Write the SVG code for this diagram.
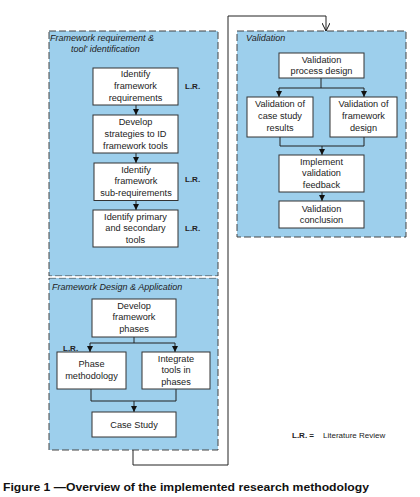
<svg xmlns="http://www.w3.org/2000/svg" width="420" height="497" viewBox="0 0 420 497">
<style>
.panel{fill:#9dcfec;stroke:#444;stroke-width:1;stroke-dasharray:7 3}
.box{fill:#fff;stroke:#333;stroke-width:1}
.t{font-family:"Liberation Sans",Arial,sans-serif;font-size:9.2px;fill:#222;text-anchor:middle}
.pt{font-family:"Liberation Sans",Arial,sans-serif;font-size:9px;font-style:italic;fill:#222}
.lr{font-family:"Liberation Sans",Arial,sans-serif;font-size:8px;font-weight:bold;fill:#222}
.c{fill:none;stroke:#222;stroke-width:1}
</style>
<defs>
<marker id="ah" viewBox="0 0 6 6" refX="6" refY="3" markerWidth="6" markerHeight="6" orient="auto" markerUnits="userSpaceOnUse">
<path d="M0,0 L6,3 L0,6 z" fill="#111"/>
</marker>
<marker id="av" viewBox="0 0 8 8" refX="8" refY="4" markerWidth="8" markerHeight="8" orient="auto" markerUnits="userSpaceOnUse">
<path d="M0,0 L8,4 L0,8" fill="none" stroke="#111" stroke-width="1"/>
</marker>
</defs>
<rect width="420" height="497" fill="#fff"/>

<g id="panel-requirements">
<rect class="panel" x="49" y="31" width="169" height="245"/>
<text class="pt" x="50" y="41">Framework requirement &amp;</text>
<text class="pt" x="71" y="52">tool' identification</text>
</g>
<g id="panel-design">
<rect class="panel" x="49" y="278" width="169" height="172"/>
<line x1="49" y1="277" x2="218" y2="277" stroke="#fff" stroke-width="1.5"/>
<text class="pt" x="52" y="290">Framework Design &amp; Application</text>
</g>
<g id="panel-validation">
<rect class="panel" x="237" y="31" width="169" height="206"/>
<text class="pt" x="246" y="41">Validation</text>
</g>

<g id="connectors">
<line class="c" x1="136" y1="105" x2="136" y2="115" marker-end="url(#ah)"/>
<line class="c" x1="136" y1="153" x2="136" y2="163" marker-end="url(#ah)"/>
<line class="c" x1="136" y1="200.5" x2="136" y2="210" marker-end="url(#ah)"/>
<polyline class="c" points="134,337 134,343 90,343 90,352" marker-end="url(#ah)"/>
<polyline class="c" points="134,343 175,343 175,352" marker-end="url(#ah)"/>
<polyline class="c" points="91,389 91,401 176,401 176,389"/>
<line class="c" x1="134" y1="401" x2="134" y2="412" marker-end="url(#ah)"/>
<polyline class="c" points="133,450 133,465 228,465 228,16 326,16 326,31" marker-end="url(#av)"/>
<polyline class="c" points="321,78 321,88 279,88 279,97" marker-end="url(#ah)"/>
<polyline class="c" points="321,88 364,88 364,97" marker-end="url(#ah)"/>
<polyline class="c" points="280,137 280,146 364,146 364,137"/>
<line class="c" x1="322" y1="146" x2="322" y2="155" marker-end="url(#ah)"/>
<line class="c" x1="322" y1="192" x2="322" y2="201" marker-end="url(#ah)"/>
</g>

<g id="n-identify-req">
<rect class="box" x="93" y="68" width="85" height="37"/>
<text class="t" x="135.5" y="77">Identify</text>
<text class="t" x="135.5" y="89">framework</text>
<text class="t" x="135.5" y="101">requirements</text>
<text class="lr" x="185" y="89">L.R.</text>
</g>
<g id="n-strategies">
<rect class="box" x="93" y="115" width="85" height="38"/>
<text class="t" x="135.5" y="125">Develop</text>
<text class="t" x="135.5" y="137">strategies to ID</text>
<text class="t" x="135.5" y="148.5">framework tools</text>
</g>
<g id="n-subreq">
<rect class="box" x="94" y="163" width="84" height="37.5"/>
<text class="t" x="136" y="172.5">Identify</text>
<text class="t" x="136" y="184">framework</text>
<text class="t" x="136" y="195.5">sub-requirements</text>
<text class="lr" x="185" y="182">L.R.</text>
</g>
<g id="n-tools">
<rect class="box" x="93" y="210" width="85" height="37"/>
<text class="t" x="135.5" y="219.5">Identify primary</text>
<text class="t" x="135.5" y="231">and secondary</text>
<text class="t" x="135.5" y="242.5">tools</text>
<text class="lr" x="185" y="231">L.R.</text>
</g>

<g id="n-phases">
<rect class="box" x="92" y="299" width="84" height="38"/>
<text class="t" x="134" y="308.5">Develop</text>
<text class="t" x="134" y="320">framework</text>
<text class="t" x="134" y="331.5">phases</text>
</g>
<g id="n-phase-method">
<rect class="box" x="57" y="352" width="69" height="37"/>
<text class="lr" x="63" y="351">L.R.</text>
<text class="t" x="91.5" y="367">Phase</text>
<text class="t" x="91.5" y="378.5">methodology</text>
</g>
<g id="n-integrate">
<rect class="box" x="142" y="352" width="68" height="37"/>
<text class="t" x="176" y="361.5">Integrate</text>
<text class="t" x="176" y="373">tools in</text>
<text class="t" x="176" y="384.5">phases</text>
</g>
<g id="n-case-study">
<rect class="box" x="92" y="412" width="84" height="25"/>
<text class="t" x="134" y="427.5">Case Study</text>
</g>

<g id="n-val-design">
<rect class="box" x="279" y="53" width="85" height="25"/>
<text class="t" x="321.5" y="63">Validation</text>
<text class="t" x="321.5" y="74">process design</text>
</g>
<g id="n-val-case">
<rect class="box" x="247" y="97" width="66" height="40"/>
<text class="t" x="280" y="107">Validation of</text>
<text class="t" x="280" y="119">case study</text>
<text class="t" x="280" y="131">results</text>
</g>
<g id="n-val-framework">
<rect class="box" x="330" y="97" width="67" height="40"/>
<text class="t" x="363.5" y="107">Validation of</text>
<text class="t" x="363.5" y="119">framework</text>
<text class="t" x="363.5" y="131">design</text>
</g>
<g id="n-feedback">
<rect class="box" x="279" y="155" width="85" height="37"/>
<text class="t" x="321.5" y="164.5">Implement</text>
<text class="t" x="321.5" y="176">validation</text>
<text class="t" x="321.5" y="187.5">feedback</text>
</g>
<g id="n-conclusion">
<rect class="box" x="279" y="201" width="85" height="27"/>
<text class="t" x="321.5" y="211.5">Validation</text>
<text class="t" x="321.5" y="223">conclusion</text>
</g>

<g id="legend">
<text class="lr" x="292" y="438">L.R. =</text>
<text x="323" y="438" font-family="'Liberation Sans',Arial,sans-serif" font-size="8px" fill="#222">Literature Review</text>
</g>
<g id="caption">
<text x="3" y="491" font-family="'Liberation Sans',Arial,sans-serif" font-size="11px" font-weight="bold" fill="#111" textLength="366" lengthAdjust="spacingAndGlyphs">Figure 1 —Overview of the implemented research methodology</text>
</g>
</svg>
